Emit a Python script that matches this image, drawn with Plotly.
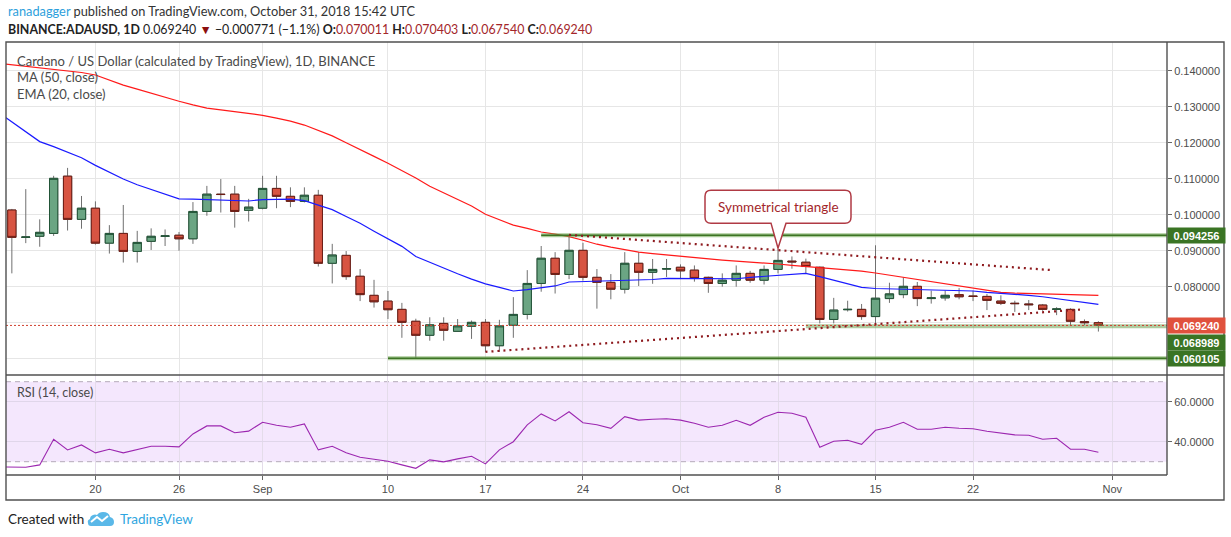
import pandas as pd
import plotly.graph_objects as go

# ---- values (BINANCE:ADAUSD, 1D) ----
candle_dates = pd.date_range("2018-08-14", "2018-10-31", freq="D")
line_dates = pd.date_range("2018-08-13", "2018-10-31", freq="D")

opens = [0.1013, 0.0937, 0.0940, 0.0948, 0.1107, 0.0987, 0.1018, 0.0921, 0.0948, 0.0898,
         0.0926, 0.0940, 0.0943, 0.0933, 0.1009, 0.1057, 0.1057, 0.1012,
         0.1018, 0.1073, 0.1051, 0.1037, 0.1054, 0.0865, 0.0887, 0.0829, 0.0776, 0.0760,
         0.0737, 0.0704, 0.0665, 0.0698, 0.0676, 0.0690, 0.0701, 0.0636, 0.0693, 0.0723,
         0.0809, 0.0879, 0.0834, 0.0901, 0.0826, 0.0812, 0.0793, 0.0865, 0.0840, 0.0849,
         0.0854, 0.0846, 0.0826, 0.0809, 0.0818, 0.0837, 0.0818, 0.0848, 0.0871, 0.0868,
         0.0854, 0.0709, 0.0736, 0.0737, 0.0717, 0.0767, 0.0778, 0.0801, 0.0767, 0.0769,
         0.0778, 0.0774, 0.0773, 0.0760, 0.0754, 0.0752, 0.0749, 0.0737, 0.0737, 0.0703,
         0.070011]
highs = [0.1016, 0.1071, 0.0987, 0.1108, 0.1130, 0.1052, 0.1037, 0.0971, 0.1027, 0.0955,
         0.0962, 0.0959, 0.0952, 0.1035, 0.1080, 0.1099, 0.1080, 0.1044,
         0.1108, 0.1108, 0.1076, 0.1076, 0.1069, 0.0919, 0.0899, 0.0849, 0.0819, 0.0788,
         0.0755, 0.0711, 0.0715, 0.0715, 0.0710, 0.0706, 0.0710, 0.0708, 0.0771, 0.0846,
         0.0913, 0.0896, 0.0943, 0.0922, 0.0849, 0.0835, 0.0896, 0.0896, 0.0877, 0.0877,
         0.0862, 0.0859, 0.0828, 0.0837, 0.0859, 0.0844, 0.0859, 0.0904, 0.0884, 0.0878,
         0.0856, 0.0769, 0.0761, 0.0752, 0.0915, 0.0811, 0.0826, 0.0813, 0.0789, 0.0789,
         0.0796, 0.0789, 0.0780, 0.0776, 0.0761, 0.0763, 0.0752, 0.0743, 0.0740, 0.0709,
         0.070403]
lows = [0.0837, 0.0921, 0.0911, 0.0941, 0.0956, 0.0961, 0.0917, 0.0892, 0.0867, 0.0867,
        0.0902, 0.0913, 0.0900, 0.0919, 0.0997, 0.1006, 0.0964, 0.0981,
        0.1015, 0.1018, 0.1021, 0.1034, 0.0856, 0.0809, 0.0819, 0.0760, 0.0742, 0.0710,
        0.0658, 0.0601, 0.0650, 0.0650, 0.0675, 0.0655, 0.0619, 0.0619, 0.0658, 0.0709,
        0.0786, 0.0781, 0.0821, 0.0817, 0.0739, 0.0765, 0.0781, 0.0802, 0.0808, 0.0827,
        0.0821, 0.0814, 0.0783, 0.0800, 0.0800, 0.0811, 0.0806, 0.0837, 0.0850, 0.0837,
        0.0698, 0.0698, 0.0731, 0.0708, 0.0696, 0.0755, 0.0768, 0.0746, 0.0753, 0.0761,
        0.0765, 0.0760, 0.0735, 0.0749, 0.0730, 0.0735, 0.0733, 0.0721, 0.0691, 0.0693,
        0.067540]
closes = [0.0937, 0.0938, 0.0951, 0.1101, 0.0987, 0.1018, 0.0921, 0.0948, 0.0898, 0.0923,
          0.0940, 0.0941, 0.0933, 0.1009, 0.1057, 0.1056, 0.1009, 0.1021,
          0.1073, 0.1051, 0.1037, 0.1054, 0.0865, 0.0888, 0.0828, 0.0778, 0.0758, 0.0736,
          0.0701, 0.0665, 0.0694, 0.0679, 0.0691, 0.0701, 0.0636, 0.0691, 0.0723, 0.0809,
          0.0879, 0.0834, 0.0901, 0.0826, 0.0812, 0.0793, 0.0865, 0.0840, 0.0848, 0.0850,
          0.0844, 0.0823, 0.0809, 0.0818, 0.0837, 0.0818, 0.0848, 0.0873, 0.0869, 0.0856,
          0.0709, 0.0735, 0.0737, 0.0717, 0.0768, 0.0780, 0.0801, 0.0767, 0.0769, 0.0776,
          0.0772, 0.0773, 0.0762, 0.0754, 0.0753, 0.0750, 0.0737, 0.0738, 0.0704, 0.0700,
          0.069240]

ma50 = [0.1421, 0.1417, 0.1413, 0.1408, 0.1404, 0.1400, 0.1395, 0.1388, 0.1374, 0.1360,
        0.1349, 0.1337, 0.1326, 0.1315, 0.1305, 0.1296, 0.1291, 0.1286, 0.1281,
        0.1276, 0.1268, 0.1260, 0.1249, 0.1234, 0.1219, 0.1200, 0.1180, 0.1162, 0.1143,
        0.1123, 0.1102, 0.1079, 0.1061, 0.1043, 0.1024, 0.1001, 0.0986, 0.0971, 0.0962,
        0.0952, 0.0946, 0.0939, 0.0929, 0.0918, 0.0910, 0.0902, 0.0896, 0.0892, 0.0888,
        0.0884, 0.0881, 0.0877, 0.0874, 0.0871, 0.0869, 0.0866, 0.0863, 0.0859, 0.0856,
        0.0853, 0.0849, 0.0846, 0.0843, 0.0838, 0.0832, 0.0826, 0.0820, 0.0814, 0.0808,
        0.0802, 0.0796, 0.0790, 0.0784, 0.0782, 0.0781, 0.0779, 0.0779, 0.0778, 0.0777,
        0.0776]
ema20 = [0.1285, 0.1258, 0.1231, 0.1203, 0.1189, 0.1174, 0.1158, 0.1137, 0.1118, 0.1099,
         0.1083, 0.1070, 0.1057, 0.1044, 0.1043, 0.1042, 0.1040, 0.1039, 0.1038,
         0.1042, 0.1043, 0.1043, 0.1039, 0.1026, 0.1014, 0.0995, 0.0976, 0.0954, 0.0933,
         0.0912, 0.0884, 0.0868, 0.0850, 0.0836, 0.0821, 0.0808, 0.0798, 0.0788, 0.0792,
         0.0796, 0.0802, 0.0813, 0.0814, 0.0815, 0.0815, 0.0816, 0.0818, 0.0820, 0.0823,
         0.0823, 0.0822, 0.0822, 0.0822, 0.0822, 0.0826, 0.0829, 0.0832, 0.0835, 0.0837,
         0.0828, 0.0818, 0.0808, 0.0798, 0.0795, 0.0794, 0.0793, 0.0792, 0.0791, 0.0790,
         0.0789, 0.0788, 0.0784, 0.0782, 0.0779, 0.0776, 0.0772, 0.0767, 0.0761, 0.0756,
         0.0751]
rsi14 = [27.4, 27.3, 27.2, 28.4, 41.2, 35.9, 38.4, 34.4, 36.2, 34.4,
         36.2, 37.7, 37.7, 37.4, 43.9, 47.9, 47.9, 44.5, 45.3,
         49.7, 48.2, 47.2, 48.9, 35.9, 37.7, 34.5, 32.2, 31.2, 30.2,
         28.4, 26.7, 30.9, 29.9, 31.4, 32.7, 28.9, 35.9, 40.0, 48.4,
         53.9, 50.4, 55.0, 49.5, 48.5, 46.7, 52.5, 50.8, 51.2, 51.5,
         50.8, 49.2, 47.2, 48.2, 50.7, 48.2, 52.2, 54.7, 54.2, 52.2,
         37.2, 40.2, 40.7, 38.7, 45.7, 47.2, 49.7, 46.2, 46.2, 47.2,
         46.7, 46.5, 45.2, 44.4, 43.4, 43.2, 41.2, 41.7, 36.2, 36.2,
         34.7]

tick_dates = ["2018-08-20", "2018-08-26", "2018-09-01", "2018-09-10", "2018-09-17",
              "2018-09-24", "2018-10-01", "2018-10-08", "2018-10-15", "2018-10-22",
              "2018-11-01"]
tick_labels = ["20", "26", "Sep", "10", "17", "24", "Oct", "8", "15", "22", "Nov"]

price_ticks = [0.06, 0.07, 0.08, 0.09, 0.10, 0.11, 0.12, 0.13, 0.14]
price_tick_labels = ["", "", "0.080000", "0.090000", "0.100000", "0.110000",
                     "0.120000", "0.130000", "0.140000"]
rsi_ticks = [40, 60]
rsi_tick_labels = ["40.0000", "60.0000"]
rsi_band = [30, 70]

level_prices = [0.094256, 0.068989, 0.060105]
level_starts = ["2018-09-21", "2018-10-10", "2018-09-10"]
last_close = 0.069240

tri_upper_dates = ["2018-09-23", "2018-10-27 16:00"]
tri_upper_prices = [0.0944, 0.0846]
tri_lower_dates = ["2018-09-17", "2018-10-29 22:00"]
tri_lower_prices = [0.0619, 0.0737]

callout_date = "2018-10-08"
callout_price = 0.0907

x_range = ["2018-08-13 13:55", "2018-11-04 22:12"]
price_range = [0.05547, 0.14797]
rsi_range = [23.35, 73.35]

# ---- layout geometry (pixels of the 1231x537 page) ----
W, H = 1231, 537
L, R, T, B = 6, 64, 42, 62
PW, PH = W - L - R, H - T - B


def fx(px):
    return (px - L) / PW


def fy(py):
    return (H - B - py) / PH


split = fy(375)

UP_FILL, UP_LINE = "#6ba583", "#225437"
DN_FILL, DN_LINE = "#d75442", "#6b1d15"
WICK = "#707070"
TXT = "#4a4a4a"
AXIS_FONT = dict(family="Liberation Sans, Arial", size=11, color="#4d4d4d")
UI_FONT = "Lato, Open Sans, sans-serif"

fig = go.Figure()

# wicks (grey) drawn with the full high/low range
fig.add_trace(go.Candlestick(
    x=candle_dates, open=opens, high=highs, low=lows, close=closes,
    increasing=dict(fillcolor=UP_FILL, line=dict(color=WICK, width=1)),
    decreasing=dict(fillcolor=DN_FILL, line=dict(color=WICK, width=1)),
    hoverinfo="skip", showlegend=False))
# bodies with dark borders on top
body_hi = [max(o, c) for o, c in zip(opens, closes)]
body_lo = [min(o, c) for o, c in zip(opens, closes)]
fig.add_trace(go.Candlestick(
    x=candle_dates, open=opens, high=body_hi, low=body_lo, close=closes,
    increasing=dict(fillcolor=UP_FILL, line=dict(color=UP_LINE, width=1)),
    decreasing=dict(fillcolor=DN_FILL, line=dict(color=DN_LINE, width=1)),
    hoverinfo="skip", showlegend=False))

fig.add_trace(go.Scatter(x=line_dates, y=ma50, mode="lines",
                         line=dict(color="#ff1a1a", width=1.2), hoverinfo="skip",
                         showlegend=False))
fig.add_trace(go.Scatter(x=line_dates, y=ema20, mode="lines",
                         line=dict(color="#1a1aff", width=1.2), hoverinfo="skip",
                         showlegend=False))

# horizontal support / resistance levels
for i, (lv, st) in enumerate(zip(level_prices, level_starts)):
    if i == 1:
        fig.add_trace(go.Scatter(x=[st, x_range[1]], y=[lv, lv], mode="lines",
                                 line=dict(color="rgba(110,160,80,0.55)", width=4),
                                 hoverinfo="skip", showlegend=False))
    else:
        fig.add_trace(go.Scatter(x=[st, x_range[1]], y=[lv, lv], mode="lines",
                                 line=dict(color="rgba(110,165,80,0.6)", width=4),
                                 hoverinfo="skip", showlegend=False))
        fig.add_trace(go.Scatter(x=[st, x_range[1]], y=[lv, lv], mode="lines",
                                 line=dict(color="#3c7424", width=1.5),
                                 hoverinfo="skip", showlegend=False))

# last price dotted line
fig.add_trace(go.Scatter(x=x_range, y=[last_close, last_close], mode="lines",
                         line=dict(color="#d0402f", width=1, dash="2px,2px"),
                         hoverinfo="skip", showlegend=False))

# triangle boundaries
for xs, ys in [(tri_upper_dates, tri_upper_prices), (tri_lower_dates, tri_lower_prices)]:
    fig.add_trace(go.Scatter(x=xs, y=ys, mode="lines",
                             line=dict(color="#8e1b1f", width=2.2, dash="2px,4px"),
                             hoverinfo="skip", showlegend=False))

# RSI
fig.add_trace(go.Scatter(x=line_dates, y=rsi14, mode="lines", xaxis="x2", yaxis="y2",
                         line=dict(color="#9c27b0", width=1.1), hoverinfo="skip",
                         showlegend=False))

shapes = [
    dict(type="rect", xref="x2 domain", yref="y2", x0=0, x1=1, y0=rsi_band[0], y1=rsi_band[1],
         fillcolor="#f4e7fd", line=dict(width=0), layer="below"),
]
for lv in rsi_band:
    shapes.append(dict(type="line", xref="x2 domain", yref="y2", x0=0, x1=1, y0=lv, y1=lv,
                       line=dict(color="#b4aab9", width=1, dash="5px,4px"), layer="below"))

# frame lines
frame = dict(color="#505050", width=1.4)
shapes += [
    dict(type="rect", xref="paper", yref="paper", x0=fx(6), x1=fx(1224), y0=fy(42), y1=fy(500),
         line=frame),
    dict(type="line", xref="paper", yref="paper", x0=1, x1=1, y0=fy(42), y1=fy(475), line=frame),
    dict(type="line", xref="paper", yref="paper", x0=fx(6), x1=fx(1224), y0=split, y1=split,
         line=frame),
    dict(type="line", xref="paper", yref="paper", x0=fx(6), x1=1, y0=0, y1=0, line=frame),
]

# callout bubble (pixel path anchored at the tip)
shapes.append(dict(
    type="path", xref="x", yref="y", xsizemode="pixel", ysizemode="pixel",
    xanchor=callout_date, yanchor=callout_price,
    path="M -7,25 L 0,0 L 8,25 L 67,25 Q 73,25 73,31 L 73,52 Q 73,58 67,58 "
         "L -67,58 Q -73,58 -73,52 L -73,31 Q -73,25 -67,25 Z",
    fillcolor="white", line=dict(color="#b03a44", width=1.5)))

# TradingView logo (rough cloud)
shapes.append(dict(
    type="path", xref="paper", yref="paper", xsizemode="pixel", ysizemode="pixel",
    xanchor=fx(88), yanchor=fy(526),
    path="M 3,0 L 22,0 Q 26,0 26,4 Q 26,8 22,9 Q 21,14 15,14 Q 11,14 9,11 "
         "Q 7,12 5,11 Q 2,10 2,7 Q -1,6 0,3 Q 0,0 3,0 Z",
    fillcolor="#5ab8e8", line=dict(width=0)))
shapes.append(dict(
    type="path", xref="paper", yref="paper", xsizemode="pixel", ysizemode="pixel",
    xanchor=fx(88), yanchor=fy(526),
    path="M 3,4 L 9,9 L 14,5 L 20,10",
    line=dict(color="white", width=2)))

ann = []


def text(px, py, s, size=13, color=TXT, family=UI_FONT, anchor="left"):
    ann.append(dict(xref="paper", yref="paper", x=fx(px), y=fy(py), text=s, showarrow=False,
                    xanchor=anchor, yanchor="middle",
                    font=dict(family=family, size=size, color=color)))


red = "#a3262a"
text(6, 11, "<span style='color:#2d9fdc'>ranadagger</span> published on TradingView.com, "
            "October 31, 2018 15:42 UTC", size=12.8, color="#333333")
text(6, 29, f"<b>BINANCE:ADAUSD, 1D</b> 0.069240 <span style='color:#8b0f0f'>▼</span> "
            f"−0.000771 (−1.1%) <b>O:</b><span style='color:{red}'>0.070011</span> "
            f"<b>H:</b><span style='color:{red}'>0.070403</span> "
            f"<b>L:</b><span style='color:{red}'>0.067540</span> "
            f"<b>C:</b><span style='color:{red}'>0.069240</span>",
     size=12.4, color="#222222")
text(15, 61, "Cardano / US Dollar (calculated by TradingView), 1D, BINANCE")
text(15, 77, "MA (50, close)")
text(15, 94, "EMA (20, close)")
text(15, 392, "RSI (14, close)", size=12.5)
text(6, 519, "Created with", size=13.5, color="#222222")
text(118, 519, "TradingView", size=13.5, color="#2fa6e0")

# callout text
ann.append(dict(x=callout_date, y=callout_price, xref="x", yref="y", yshift=41.5,
                text="Symmetrical triangle", showarrow=False,
                font=dict(family=UI_FONT, size=13.5, color="#a3262a")))

# price scale markers
for lv in level_prices:
    ann.append(dict(xref="paper", yref="y", x=1, y=lv, xanchor="left", yanchor="middle",
                    yshift=-16 if lv == 0.068989 else 0,
                    text="<b>%.6f</b>" % lv, showarrow=False, bgcolor="#3a7424",
                    width=55, height=13, borderpad=1,
                    font=dict(family="Liberation Sans, Arial", size=11, color="white")))
ann.append(dict(xref="paper", yref="y", x=1, y=last_close, xanchor="left", yanchor="middle",
                text="<b>%.6f</b>" % last_close, showarrow=False, bgcolor="#e0513d",
                width=55, height=13, borderpad=1,
                font=dict(family="Liberation Sans, Arial", size=11, color="white")))

fig.update_layout(
    width=W, height=H,
    margin=dict(l=L, r=R, t=T, b=B),
    paper_bgcolor="white", plot_bgcolor="white",
    showlegend=False, hovermode=False,
    boxgap=0.15, boxgroupgap=0.3,
    xaxis=dict(domain=[0, 1], anchor="y", type="date", range=x_range,
               tickvals=tick_dates, ticktext=tick_labels, showticklabels=False,
               showgrid=True, gridcolor="#e6e6e6", zeroline=False,
               rangeslider=dict(visible=False)),
    yaxis=dict(domain=[split, 1], anchor="x", side="right", range=price_range,
               tickvals=price_ticks, ticktext=price_tick_labels, ticks="outside",
               ticklen=4, tickcolor="#666666", tickfont=AXIS_FONT,
               showgrid=True, gridcolor="#e6e6e6", zeroline=False),
    xaxis2=dict(domain=[0, 1], anchor="y2", type="date", range=x_range, matches="x",
                tickvals=tick_dates, ticktext=tick_labels, ticks="outside", ticklen=4,
                tickcolor="#666666", tickfont=AXIS_FONT,
                showgrid=True, gridcolor="#e4dcea", zeroline=False),
    yaxis2=dict(domain=[0, split], anchor="x2", side="right", range=rsi_range,
                tickvals=rsi_ticks, ticktext=rsi_tick_labels, ticks="outside", ticklen=4,
                tickcolor="#666666", tickfont=AXIS_FONT,
                showgrid=True, gridcolor="#e0d6ea", zeroline=False),
    shapes=shapes,
    annotations=ann,
)

# page body margin removed so the figure sits at the window origin
fig.write_html("out.html", config={"displayModeBar": False},
               post_script="document.body.style.margin='0px';")
